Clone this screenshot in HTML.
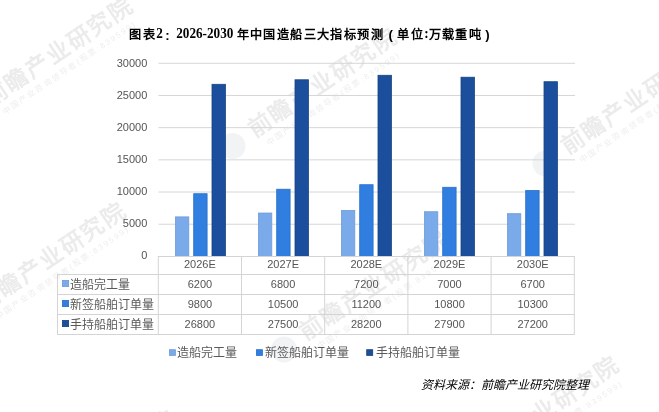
<!DOCTYPE html>
<html lang="zh-CN"><head><meta charset="utf-8">
<style>
html,body{margin:0;padding:0;background:#fff;}
body{width:659px;height:412px;overflow:hidden;position:relative;filter:grayscale(0%);font-family:"Liberation Sans",sans-serif;}
svg{position:absolute;left:0;top:0;}
.wm1{font-family:"Liberation Sans",sans-serif;font-size:23px;font-weight:normal;letter-spacing:2px;fill:#ebebeb;stroke:#ebebeb;stroke-width:0.7px;}
.wm2{font-family:"Liberation Sans",sans-serif;font-size:8px;letter-spacing:1.9px;fill:#eeeeee;}
.ax{font-family:"Liberation Sans",sans-serif;font-size:11px;fill:#555;}
.cn{font-family:"Liberation Sans",sans-serif;font-size:12px;fill:#595959;}
#title{position:absolute;left:129.4px;top:27px;font-weight:bold;font-size:13.2px;color:#000;white-space:nowrap;line-height:16px;}
#title .s{font-family:"Liberation Serif",serif;display:inline-block;transform:translateY(-0.8px) scaleY(1.1);transform-origin:50% 80%;white-space:pre;}
#title .c{font-family:"Liberation Sans",sans-serif;font-size:12.2px;letter-spacing:1.4px;position:relative;top:-0.5px;}
#title .p{display:inline-block;width:13.4px;text-align:center;font-family:"Liberation Sans",sans-serif;}
#src{position:absolute;left:421px;top:378px;font-size:12px;font-style:italic;color:#000;white-space:nowrap;line-height:14px;}
</style></head><body>

<svg width="659" height="412" viewBox="0 0 659 412">
<g transform="translate(58,51) rotate(-34)"><circle cx="-110" cy="3" r="13" fill="#f1f3f5"/><text x="-87" y="8.5" class="wm1">前瞻产业研究院</text><text x="-80" y="23" class="wm2">中国产业咨询领导者(股票:839599)</text></g>
<g transform="translate(322,82) rotate(-34)"><circle cx="-110" cy="3" r="13" fill="#f1f3f5"/><text x="-87" y="8.5" class="wm1">前瞻产业研究院</text><text x="-80" y="23" class="wm2">中国产业咨询领导者(股票:839599)</text></g>
<g transform="translate(635,99.5) rotate(-34)"><circle cx="-110" cy="3" r="13" fill="#f1f3f5"/><text x="-87" y="8.5" class="wm1">前瞻产业研究院</text><text x="-80" y="23" class="wm2">中国产业咨询领导者(股票:839599)</text></g>
<g transform="translate(51,256) rotate(-34)"><circle cx="-110" cy="3" r="13" fill="#f1f3f5"/><text x="-87" y="8.5" class="wm1">前瞻产业研究院</text><text x="-80" y="23" class="wm2">中国产业咨询领导者(股票:839599)</text></g>
<g transform="translate(373.5,285.5) rotate(-34)"><circle cx="-110" cy="3" r="13" fill="#f1f3f5"/><text x="-87" y="8.5" class="wm1">前瞻产业研究院</text><text x="-80" y="23" class="wm2">中国产业咨询领导者(股票:839599)</text></g>
<g transform="translate(544.5,410.5) rotate(-34)"><circle cx="-110" cy="3" r="13" fill="#f1f3f5"/><text x="-87" y="8.5" class="wm1">前瞻产业研究院</text><text x="-80" y="23" class="wm2">中国产业咨询领导者(股票:839599)</text></g>
<g transform="translate(101,464) rotate(-34)"><circle cx="-110" cy="3" r="13" fill="#f1f3f5"/><text x="-87" y="8.5" class="wm1">前瞻产业研究院</text><text x="-80" y="23" class="wm2">中国产业咨询领导者(股票:839599)</text></g>
<line x1="158.5" x2="575" y1="224.22" y2="224.22" stroke="#d6d6d6" stroke-width="1"/>
<line x1="158.5" x2="575" y1="192.03" y2="192.03" stroke="#d6d6d6" stroke-width="1"/>
<line x1="158.5" x2="575" y1="159.85" y2="159.85" stroke="#d6d6d6" stroke-width="1"/>
<line x1="158.5" x2="575" y1="127.67" y2="127.67" stroke="#d6d6d6" stroke-width="1"/>
<line x1="158.5" x2="575" y1="95.48" y2="95.48" stroke="#d6d6d6" stroke-width="1"/>
<line x1="158.5" x2="575" y1="63.30" y2="63.30" stroke="#d6d6d6" stroke-width="1"/>
<text x="147.3" y="258.90" text-anchor="end" class="ax">0</text>
<text x="147.3" y="226.85" text-anchor="end" class="ax">5000</text>
<text x="147.3" y="194.80" text-anchor="end" class="ax">10000</text>
<text x="147.3" y="162.75" text-anchor="end" class="ax">15000</text>
<text x="147.3" y="130.70" text-anchor="end" class="ax">20000</text>
<text x="147.3" y="98.65" text-anchor="end" class="ax">25000</text>
<text x="147.3" y="66.60" text-anchor="end" class="ax">30000</text>
<rect x="175.40" y="216.89" width="13.40" height="39.51" fill="#7baaea" stroke="#6f9bd6" stroke-width="0.8"/>
<rect x="258.40" y="213.03" width="13.40" height="43.37" fill="#7baaea" stroke="#6f9bd6" stroke-width="0.8"/>
<rect x="341.40" y="210.46" width="13.40" height="45.94" fill="#7baaea" stroke="#6f9bd6" stroke-width="0.8"/>
<rect x="424.40" y="211.74" width="13.40" height="44.66" fill="#7baaea" stroke="#6f9bd6" stroke-width="0.8"/>
<rect x="507.40" y="213.67" width="13.40" height="42.73" fill="#7baaea" stroke="#6f9bd6" stroke-width="0.8"/>
<rect x="193.70" y="193.72" width="13.40" height="62.68" fill="#2f7ee0" stroke="#2a6fc8" stroke-width="0.8"/>
<rect x="276.70" y="189.22" width="13.40" height="67.18" fill="#2f7ee0" stroke="#2a6fc8" stroke-width="0.8"/>
<rect x="359.70" y="184.71" width="13.40" height="71.69" fill="#2f7ee0" stroke="#2a6fc8" stroke-width="0.8"/>
<rect x="442.70" y="187.28" width="13.40" height="69.12" fill="#2f7ee0" stroke="#2a6fc8" stroke-width="0.8"/>
<rect x="525.70" y="190.50" width="13.40" height="65.90" fill="#2f7ee0" stroke="#2a6fc8" stroke-width="0.8"/>
<rect x="212.00" y="84.30" width="13.40" height="172.10" fill="#1b4f9d" stroke="#17437f" stroke-width="0.8"/>
<rect x="295.00" y="79.79" width="13.40" height="176.61" fill="#1b4f9d" stroke="#17437f" stroke-width="0.8"/>
<rect x="378.00" y="75.29" width="13.40" height="181.11" fill="#1b4f9d" stroke="#17437f" stroke-width="0.8"/>
<rect x="461.00" y="77.22" width="13.40" height="179.18" fill="#1b4f9d" stroke="#17437f" stroke-width="0.8"/>
<rect x="544.00" y="81.72" width="13.40" height="174.68" fill="#1b4f9d" stroke="#17437f" stroke-width="0.8"/>
<line x1="158" x2="575" y1="256.5" y2="256.5" stroke="#d4d4d4"/>
<line x1="57" x2="575" y1="274.5" y2="274.5" stroke="#d4d4d4"/>
<line x1="57" x2="575" y1="294.5" y2="294.5" stroke="#d4d4d4"/>
<line x1="57" x2="575" y1="314.5" y2="314.5" stroke="#d4d4d4"/>
<line x1="57" x2="575" y1="334.5" y2="334.5" stroke="#d4d4d4"/>
<line x1="57.5" x2="57.5" y1="274" y2="335" stroke="#d4d4d4"/>
<line x1="158.30" x2="158.30" y1="256" y2="335" stroke="#d4d4d4"/>
<line x1="241.50" x2="241.50" y1="256" y2="335" stroke="#d4d4d4"/>
<line x1="324.70" x2="324.70" y1="256" y2="335" stroke="#d4d4d4"/>
<line x1="407.90" x2="407.90" y1="256" y2="335" stroke="#d4d4d4"/>
<line x1="491.10" x2="491.10" y1="256" y2="335" stroke="#d4d4d4"/>
<line x1="574.30" x2="574.30" y1="256" y2="335" stroke="#d4d4d4"/>
<text x="199.90" y="268.3" text-anchor="middle" class="ax">2026E</text>
<text x="283.10" y="268.3" text-anchor="middle" class="ax">2027E</text>
<text x="366.30" y="268.3" text-anchor="middle" class="ax">2028E</text>
<text x="449.50" y="268.3" text-anchor="middle" class="ax">2029E</text>
<text x="532.70" y="268.3" text-anchor="middle" class="ax">2030E</text>
<text x="199.90" y="288.20" text-anchor="middle" class="ax">6200</text>
<text x="283.10" y="288.20" text-anchor="middle" class="ax">6800</text>
<text x="366.30" y="288.20" text-anchor="middle" class="ax">7200</text>
<text x="449.50" y="288.20" text-anchor="middle" class="ax">7000</text>
<text x="532.70" y="288.20" text-anchor="middle" class="ax">6700</text>
<rect x="62.4" y="280.4" width="6.2" height="6.2" fill="#7baaea" stroke="#6f9bd6" stroke-width="0.8"/>
<text x="70" y="288.80" class="cn">造船完工量</text>
<text x="199.90" y="308.20" text-anchor="middle" class="ax">9800</text>
<text x="283.10" y="308.20" text-anchor="middle" class="ax">10500</text>
<text x="366.30" y="308.20" text-anchor="middle" class="ax">11200</text>
<text x="449.50" y="308.20" text-anchor="middle" class="ax">10800</text>
<text x="532.70" y="308.20" text-anchor="middle" class="ax">10300</text>
<rect x="62.4" y="300.4" width="6.2" height="6.2" fill="#2f7ee0" stroke="#2a6fc8" stroke-width="0.8"/>
<text x="70" y="308.80" class="cn">新签船舶订单量</text>
<text x="199.90" y="328.20" text-anchor="middle" class="ax">26800</text>
<text x="283.10" y="328.20" text-anchor="middle" class="ax">27500</text>
<text x="366.30" y="328.20" text-anchor="middle" class="ax">28200</text>
<text x="449.50" y="328.20" text-anchor="middle" class="ax">27900</text>
<text x="532.70" y="328.20" text-anchor="middle" class="ax">27200</text>
<rect x="62.4" y="320.4" width="6.2" height="6.2" fill="#1b4f9d" stroke="#17437f" stroke-width="0.8"/>
<text x="70" y="328.80" class="cn">手持船舶订单量</text>
<rect x="169.4" y="349.7" width="6" height="5.7" fill="#7baaea" stroke="#6f9bd6" stroke-width="0.8"/>
<text x="177" y="357" class="cn">造船完工量</text>
<rect x="256.4" y="349.7" width="6" height="5.7" fill="#2f7ee0" stroke="#2a6fc8" stroke-width="0.8"/>
<text x="264.5" y="357" class="cn">新签船舶订单量</text>
<rect x="366.7" y="349.7" width="6" height="5.7" fill="#1b4f9d" stroke="#17437f" stroke-width="0.8"/>
<text x="376" y="357" class="cn">手持船舶订单量</text>
</svg>
<div id="title"><span class="c">图表</span><span class="s">2</span><span class="p" style="text-align:left;padding-left:2.4px;width:11px;position:relative;top:0.8px">:</span><span class="s">2026-2030 </span><span class="c">年中国造船三大指标预测</span><span class="p">(</span><span class="c">单位</span><span class="s">:</span><span class="c">万载重吨</span><span class="p" style="text-align:left;padding-left:3px;width:10.4px">)</span></div>
<div id="src">资料来源：前瞻产业研究院整理</div>
</body></html>
